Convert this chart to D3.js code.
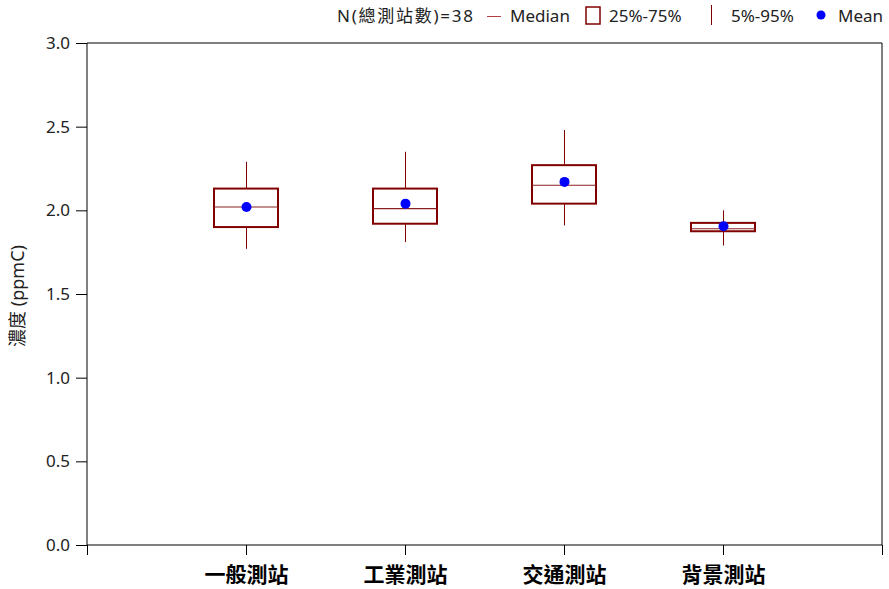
<!DOCTYPE html>
<html>
<head>
<meta charset="utf-8">
<script src="https://cdn.jsdelivr.net/npm/d3@7"></script>
<style>
  body { margin: 0; background: #fff; }
  text { font-family: "Noto Sans", "Noto Sans CJK TC", sans-serif; }
</style>
</head>
<body>
<div id="chart"></div>
<script>
// data
var categories = ["一般測站", "工業測站", "交通測站", "背景測站"]
var p5 = [1.77, 1.81, 1.91, 1.79]
var p25 = [1.90, 1.92, 2.04, 1.875]
var median = [2.02, 2.01, 2.15, 1.89]
var p75 = [2.13, 2.13, 2.27, 1.925]
var p95 = [2.29, 2.35, 2.48, 2.00]
var mean = [2.02, 2.04, 2.17, 1.905]
var yTicks = [0, 0.5, 1.0, 1.5, 2.0, 2.5, 3.0]

var width = 889, height = 589
var margin = {top: 43, right: 7, bottom: 44, left: 87}
var dark = "#800000"

var rows = categories.map(function(c, i) {
  return {cat: c, i: i + 1, p5: p5[i], p25: p25[i], med: median[i], p75: p75[i], p95: p95[i], mean: mean[i]}
})

var svg = d3.select("#chart")
  .append("svg")
  .attr("width", width)
  .attr("height", height)

var xScale = d3.scaleLinear()
  .domain([0, categories.length + 1])
  .range([margin.left, width - margin.right])

var yScale = d3.scaleLinear()
  .domain([0, 3])
  .range([height - margin.bottom, margin.top])

// frame on top and right
svg.append("path")
  .attr("d", `M${xScale(0)},${yScale(3)}H${xScale(5)}V${yScale(0)}`)
  .attr("fill", "none")
  .attr("stroke", "#000")
  .attr("stroke-width", 1)

// Y axis
var yAxis = d3.axisLeft(yScale)
  .tickValues(yTicks)
  .tickFormat(d3.format(".1f"))
  .tickSize(11)
  .tickPadding(6)

svg.append("g")
  .attr("transform", `translate(${margin.left},0)`)
  .call(yAxis)
  .call(g => g.select(".domain").attr("d", `M0,${yScale(3)}V${yScale(0)}`))
  .call(g => g.selectAll("line").attr("stroke", "#000"))
  .call(g => g.selectAll("text").attr("font-size", 17).attr("fill", "#222"))

// X axis
var xAxis = d3.axisBottom(xScale)
  .tickValues(d3.range(0, categories.length + 2))
  .tickFormat(d => (d >= 1 && d <= categories.length) ? categories[d - 1] : "")
  .tickSize(10)
  .tickPadding(12)

svg.append("g")
  .attr("transform", `translate(0,${height - margin.bottom})`)
  .call(xAxis)
  .call(g => g.select(".domain").attr("d", `M${xScale(0)},0H${xScale(5)}`))
  .call(g => g.selectAll("line").attr("stroke", "#000"))
  .call(g => g.selectAll("text")
    .attr("font-size", 21)
    .attr("font-weight", "bold")
    .attr("font-family", "'Noto Sans CJK TC', sans-serif")
    .attr("fill", "#000"))

// y label
svg.append("text")
  .attr("transform", `translate(24,${(yScale(0) + yScale(3)) / 2 + 2}) rotate(-90)`)
  .attr("text-anchor", "middle")
  .attr("font-size", 18)
  .attr("fill", "#222")
  .text("濃度 (ppmC)")

var boxW = 64

var g = svg.selectAll(".box")
  .data(rows)
  .enter()
  .append("g")
  .attr("class", "box")

// whiskers (half pixel offset keeps them crisp)
g.append("line")
  .attr("x1", d => xScale(d.i) + 0.5).attr("x2", d => xScale(d.i) + 0.5)
  .attr("y1", d => yScale(d.p75)).attr("y2", d => yScale(d.p95))
  .attr("stroke", dark).attr("stroke-width", 1)
g.append("line")
  .attr("x1", d => xScale(d.i) + 0.5).attr("x2", d => xScale(d.i) + 0.5)
  .attr("y1", d => yScale(d.p25)).attr("y2", d => yScale(d.p5))
  .attr("stroke", dark).attr("stroke-width", 1)

// box
g.append("rect")
  .attr("x", d => xScale(d.i) - boxW / 2)
  .attr("y", d => yScale(d.p75))
  .attr("width", boxW)
  .attr("height", d => yScale(d.p25) - yScale(d.p75))
  .attr("fill", "none")
  .attr("stroke", dark)
  .attr("stroke-width", 2)

// median
g.append("line")
  .attr("x1", d => xScale(d.i) - boxW / 2).attr("x2", d => xScale(d.i) + boxW / 2)
  .attr("y1", d => yScale(d.med)).attr("y2", d => yScale(d.med))
  .attr("stroke", "#8a2020").attr("stroke-width", 1.2)

// mean
g.append("circle")
  .attr("cx", d => xScale(d.i) + 0.5)
  .attr("cy", d => yScale(d.mean))
  .attr("r", 5)
  .attr("fill", "#0000ff")

// legend
var leg = svg.append("g").attr("font-size", 17).attr("fill", "#222")
leg.append("text").attr("x", 337).attr("y", 22).attr("textLength", 136).text("N(總測站數)=38")
leg.append("line").attr("x1", 487).attr("x2", 501).attr("y1", 16.5).attr("y2", 16.5)
  .attr("stroke", "#b04040").attr("stroke-width", 1)
leg.append("text").attr("x", 510).attr("y", 22).text("Median")
leg.append("rect").attr("x", 586).attr("y", 7).attr("width", 14).attr("height", 17)
  .attr("fill", "none").attr("stroke", dark).attr("stroke-width", 1.5)
leg.append("text").attr("x", 609).attr("y", 22).text("25%-75%")
leg.append("line").attr("x1", 711.5).attr("x2", 711.5).attr("y1", 5).attr("y2", 25)
  .attr("stroke", dark).attr("stroke-width", 1)
leg.append("text").attr("x", 731).attr("y", 22).text("5%-95%")
leg.append("circle").attr("cx", 821).attr("cy", 15).attr("r", 4.5).attr("fill", "#0000ff")
leg.append("text").attr("x", 838).attr("y", 22).text("Mean")
</script>
</body>
</html>
